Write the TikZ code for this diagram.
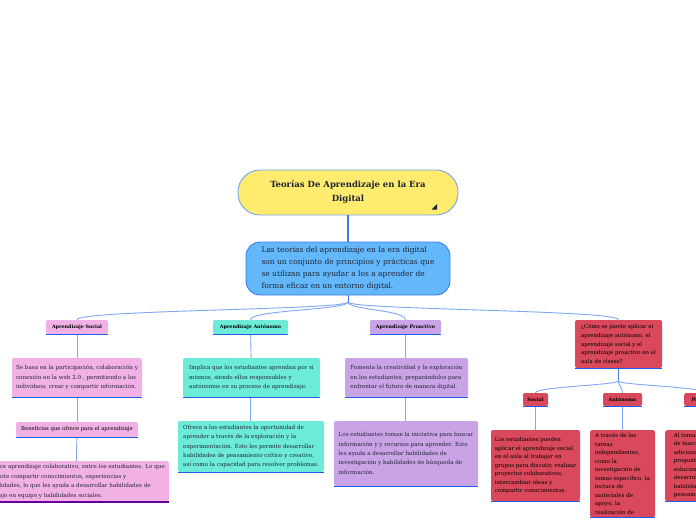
\documentclass[tikz,border=0pt]{standalone}
\usepackage{fontspec}
\setmainfont{DejaVu Serif}
\definecolor{linkblue}{HTML}{7FA7F3}
\definecolor{stemblue}{HTML}{3D7CF0}
\definecolor{ulblue}{HTML}{1F5CEB}
\definecolor{titleyellow}{HTML}{FFEB6E}
\definecolor{introblue}{HTML}{63B8FC}
\definecolor{socpink}{HTML}{F2B1E4}
\definecolor{autteal}{HTML}{6DEBD9}
\definecolor{propurple}{HTML}{C9A3E6}
\definecolor{aulared}{HTML}{D9485B}
\definecolor{textdark}{HTML}{1E2433}
\begin{document}
\begin{tikzpicture}[x=1pt, y=-1pt,
    box/.style={rounded corners=2pt, align=left, inner sep=3.5pt, text=textdark,
        font=\fontsize{5.6}{9.4}\selectfont},
    redbox/.style={box, fill=aulared, text=black, inner sep=3pt,
        font=\fontsize{5.5}{8.5}\selectfont},
    head/.style={rounded corners=2pt, inner sep=2pt, minimum height=14,
        font=\bfseries\fontsize{4.8}{6}\selectfont},
    link/.style={linkblue, line width=0.9pt},
    uline/.style={ulblue, line width=1.4pt}]

    \fill[white] (0,0) rectangle (696,520);
    \useasboundingbox (0,0) rectangle (696,520);
    \clip (0,0) rectangle (696,520);

    % centre
    \node[fill=titleyellow, draw=stemblue!70, line width=0.9pt, rounded corners=22pt,
        minimum width=220, minimum height=45, align=center, text=textdark,
        font=\bfseries\fontsize{8.5}{14}\selectfont] (title) at (348,192.5)
        {Teorías De Aprendizaje en la Era\\Digital};
    \fill[textdark] (437,204) -- (437,209.5) -- (431.5,209.5) -- cycle;

    \node[fill=introblue, draw=stemblue, line width=0.9pt, rounded corners=14pt,
        minimum width=204, minimum height=53, align=left, text=textdark,
        font=\fontsize{7.5}{12}\selectfont] (intro) at (348,268.5)
        {Las teorías del aprendizaje en la era digital\\son un conjunto de principios y prácticas que\\se utilizan para ayudar a los a aprender de\\forma eficaz en un entorno digital.};
    \draw[stemblue, line width=1.3pt] (title.south) -- (intro.north);

    % first level
    \node[head, fill=socpink, minimum width=62] (social) at (77,327) {Aprendizaje Social};
    \node[head, fill=autteal, minimum width=75] (autonomo) at (250.5,327) {Aprendizaje Autónomo};
    \node[head, fill=propurple, minimum width=71] (proactivo) at (405.5,327) {Aprendizaje Proactivo};
    \node[redbox, minimum width=87, minimum height=48, inner sep=3.5pt,
        font=\fontsize{5.4}{8.6}\selectfont] (aula) at (618.5,344)
        {¿Cómo se puede aplicar el\\aprendizaje autónomo, el\\aprendizaje social y el\\aprendizaje proactivo en el\\aula de clases?};

    \coordinate (fk1) at (348,302);
    \draw[stemblue, line width=1pt] (intro.south) -- (fk1);
    \foreach \n in {social, autonomo, proactivo, aula}
        \draw[link] (fk1) .. controls +(0,8) and +(0,-10) .. (\n.north);

    % social
    \node[box, fill=socpink, minimum width=130, minimum height=39] (socialA) at (77,377.5)
        {Se basa en la participación, colaboración y\\conexión en la web 2.0 , permitiendo a los\\individuos, crear y compartir información.};
    \node[head, fill=socpink, minimum width=122, minimum height=15,
        font=\fontsize{5.3}{6}\selectfont] (socialB) at (77,429.5)
        {Beneficios que ofrece para el aprendizaje};
    \node[box, fill=socpink, minimum width=186, minimum height=39] (socialC) at (76,481.5)
        {Ofrece aprendizaje colaborativo, entre los estudiantes. Lo que\\permite compartir conocimientos, experiencias y\\habilidades, lo que les ayuda a desarrollar habilidades de\\trabajo en equipo y habilidades sociales.};
    \draw[link] (social) -- (socialA);
    \draw[link] (socialA) -- (socialB);
    \draw[link] (socialB) -- (socialC);

    % autonomo
    \node[box, fill=autteal, minimum width=137, minimum height=39] (autoA) at (251.5,377.5)
        {Implica que los estudiantes aprendan por sí\\mismos, siendo ellos responsables y\\autónomos en su proceso de aprendizaje.};
    \node[box, fill=autteal, minimum width=146, minimum height=51] (autoB) at (251,446.5)
        {Ofrece a los estudiantes la oportunidad de\\aprender a través de la exploración y la\\experimentación. Esto les permite desarrollar\\habilidades de pensamiento crítico y creativo,\\así como la capacidad para resolver problemas.};
    \draw[link] (autonomo) -- (autoA);
    \draw[link] (autoA.south -| autonomo) -- (autoB.north -| autonomo);

    % proactivo
    \node[box, fill=propurple, minimum width=123, minimum height=39] (proA) at (406.5,377.5)
        {Fomenta la creatividad y la exploración\\en los estudiantes, preparándolos para\\enfrentar el futuro de manera digital.};
    \node[box, fill=propurple, minimum width=144, minimum height=65] (proB) at (406,453.5)
        {Los estudiantes toman la iniciativa para buscar\\información y y recursos para aprender. Esto\\les ayuda a desarrollar habilidades de\\investigación y habilidades de búsqueda de\\información.};
    \draw[link] (proactivo) -- (proactivo |- proA.north);
    \draw[link] (proactivo |- proA.south) -- (proactivo |- proB.north);

    % aula
    \node[head, fill=aulared, minimum width=25, minimum height=13] (aulaSoc) at (535.5,399.5) {Social};
    \node[head, fill=aulared, minimum width=39, minimum height=13] (aulaAut) at (622.5,399.5) {Autónomo};
    \node[head, fill=aulared, minimum width=40, minimum height=13, anchor=west] (aulaPro) at (684,399.5) {Proactivo};
    \coordinate (fk2) at (618,381);
    \draw[ulblue!80, line width=1pt] (aula.south -| fk2) -- (fk2);
    \foreach \n in {aulaSoc, aulaAut, aulaPro}
        \draw[link] (fk2) .. controls +(0,4) and +(0,-6) .. (\n.north);

    \node[redbox, minimum width=89, minimum height=71] (aulaSocT) at (535.5,465.5)
        {Los estudiantes pueden\\aplicar el aprendizaje social\\en el aula al trabajar en\\grupos para discutir, realizar\\proyectos colaborativos,\\intercambiar ideas y\\compartir conocimientos.};
    \node[redbox, minimum width=65, anchor=north] (aulaAutT) at (622.5,430)
        {A través de las\\tareas\\independientes,\\como la\\investigación de\\temas específico, la\\lectura de\\materiales de\\apoyo, la\\realización de};
    \node[redbox, minimum width=80, minimum height=71, anchor=north west] (aulaProT) at (665,430)
        {Al tomar la iniciativa\\de buscar información\\adicional, hacer\\preguntas y buscar\\soluciones, se\\desarrollan\\habilidades de\\pensamiento crítico.};
    \draw[link] (aulaSoc) -- (aulaSocT);
    \draw[link] (aulaAut) -- (aulaAutT);

    \foreach \n in {social, autonomo, proactivo, aula, socialA, socialB, autoA, autoB,
        proA, proB, aulaSoc, aulaAut, aulaPro, aulaSocT, aulaAutT, aulaProT}
        \draw[uline] (\n.south west) -- (\n.south east);
    \draw[violet!80!blue, line width=1.4pt] (socialC.south west) -- (socialC.south east);
\end{tikzpicture}
\end{document}
